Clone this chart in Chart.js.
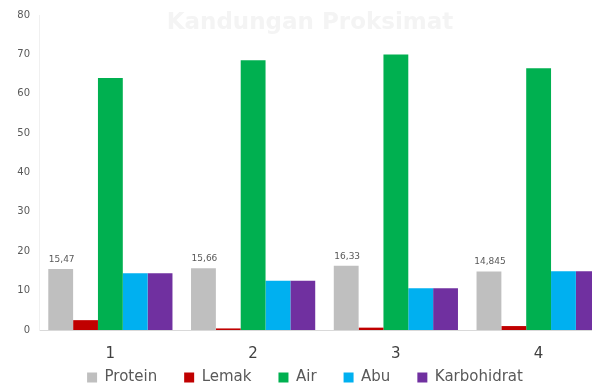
<!DOCTYPE html>
<html>
<head>
<meta charset="utf-8">
<script src="https://cdn.jsdelivr.net/npm/chart.js@4/dist/chart.umd.min.js"></script>
<style>
    html, body { margin: 0; padding: 0; background: #fff; overflow: hidden; }
    #wrap { width: 610px; height: 389px; position: relative; }
</style>
</head>
<body>
<div id="wrap"><canvas id="myChart"></canvas></div>
<script>
var categories = ['1', '2', '3', '4'];
var protein = [15.47, 15.66, 16.33, 14.845];
var lemak = [2.5, 0.4, 0.6, 1.0];
var air = [64, 68.5, 70, 66.5];
var abu = [14.4, 12.5, 10.6, 14.9];
var karbohidrat = [14.4, 12.5, 10.6, 14.9];
var proteinLabels = ['15,47', '15,66', '16,33', '14,845'];

var titleText = 'Kandungan Proksimat';

function $each(list, fn) {
    for (var i = 0; i < list.length; i++) {
        fn(i, list[i]);
    }
}

var proteinLabelPlugin = {
    id: 'proteinLabels',
    afterDatasetsDraw: function(chart) {
        var ctx = chart.ctx;
        var meta = chart.getDatasetMeta(0);
        ctx.save();
        ctx.font = '9px "DejaVu Sans"';
        ctx.fillStyle = '#595959';
        ctx.textAlign = 'center';
        ctx.textBaseline = 'bottom';
        $each(meta.data, function(index, bar) {
            ctx.fillText(proteinLabels[index], bar.x + 1, bar.y - 5);
        });
        ctx.restore();
    }
};

var faintTitlePlugin = {
    id: 'faintTitle',
    beforeDatasetsDraw: function(chart) {
        var ctx = chart.ctx;
        ctx.save();
        ctx.font = 'bold 23px "DejaVu Sans"';
        ctx.fillStyle = '#f4f4f4';
        ctx.textAlign = 'center';
        ctx.textBaseline = 'middle';
        ctx.fillText(titleText, 310, 23);
        ctx.restore();
    }
};

// legend keeps wide gaps between items but sits close under the axis
var legendPlacePlugin = {
    id: 'legendPlace',
    beforeInit: function(chart) {
        var originalFit = chart.legend.fit;
        chart.legend.fit = function() {
            originalFit.bind(chart.legend)();
            this.height = 25;
        };
    },
    afterLayout: function(chart) {
        chart.legend.top = 343;
        chart.legend.bottom = 389;
    }
};

function buildDataset(label, values, color) {
    return {
        label: label,
        data: values,
        backgroundColor: color,
        borderWidth: 0,
        categoryPercentage: 0.87,
        barPercentage: 1.0
    };
}

var chart = new Chart(document.getElementById('myChart'), {
    type: 'bar',
    data: {
        labels: categories,
        datasets: [
            buildDataset('Protein', protein, '#bfbfbf'),
            buildDataset('Lemak', lemak, '#c00000'),
            buildDataset('Air', air, '#00b050'),
            buildDataset('Abu', abu, '#00b0f0'),
            buildDataset('Karbohidrat', karbohidrat, '#7030a0')
        ]
    },
    options: {
        responsive: true,
        maintainAspectRatio: false,
        animation: false,
        layout: { padding: { top: 10, right: 0, bottom: 0, left: 0 } },
        plugins: {
            legend: {
                position: 'bottom',
                labels: {
                    boxWidth: 10,
                    boxHeight: 10,
                    padding: 27,
                    color: '#595959',
                    font: { family: 'DejaVu Sans', size: 15 }
                }
            },
            tooltip: { enabled: false },
            title: { display: false }
        },
        scales: {
            x: {
                afterFit: function(scale) { scale.height = 34; },
                grid: { display: false, drawTicks: false },
                border: { color: '#d9d9d9' },
                ticks: {
                    color: '#404040',
                    padding: 15,
                    font: { family: 'DejaVu Sans', size: 15 }
                }
            },
            y: {
                min: 0,
                max: 80,
                afterFit: function(scale) { scale.width = 39; },
                grid: { display: false, drawTicks: false },
                border: { color: '#f0f0f0' },
                ticks: {
                    stepSize: 10,
                    color: '#595959',
                    padding: 9,
                    font: { family: 'DejaVu Sans', size: 10 }
                }
            }
        }
    },
    plugins: [legendPlacePlugin, faintTitlePlugin, proteinLabelPlugin]
});
</script>
</body>
</html>
